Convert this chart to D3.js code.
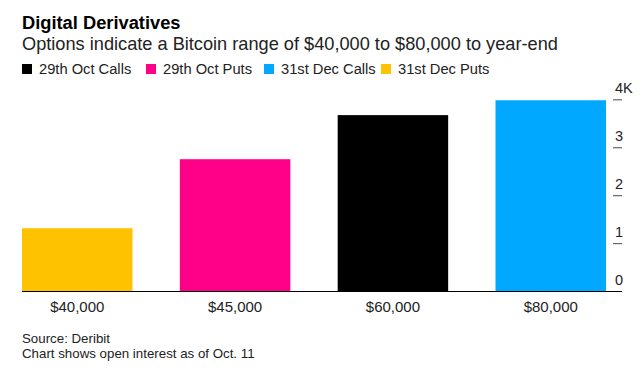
<!DOCTYPE html>
<html>
<head>
<meta charset="utf-8">
<script src="https://cdn.jsdelivr.net/npm/d3@7"></script>
<style>
  body { margin: 0; background: #fff; }
  svg { display: block; font-family: "Liberation Sans", Arial, sans-serif; }
</style>
</head>
<body>
<svg id="chart"></svg>
<script>
// strike prices, values (open interest) and the series each bar belongs to
const strikes = ["$40,000", "$45,000", "$60,000", "$80,000"];
const openInterest = [1310, 2750, 3670, 3980];
const barSeries = ["31st Dec Puts", "29th Oct Puts", "29th Oct Calls", "31st Dec Calls"];

const seriesNames = ["29th Oct Calls", "29th Oct Puts", "31st Dec Calls", "31st Dec Puts"];
const seriesColors = ["#000000", "#ff0089", "#00a9ff", "#ffc200"];

const yTicks = [0, 1000, 2000, 3000, 4000];
const yTickLabels = ["0", "1", "2", "3", "4K"];

const width = 643, height = 372;
const svg = d3.select("#chart").attr("width", width).attr("height", height);

const color = d3.scaleOrdinal().domain(seriesNames).range(seriesColors);

// 标题
svg.append("text")
    .attr("x", 22).attr("y", 29)
    .style("font-size", "18.3px").style("font-weight", "bold")
    .text("Digital Derivatives");

svg.append("text")
    .attr("x", 22).attr("y", 50)
    .style("font-size", "18.2px").attr("fill", "#222")
    .text("Options indicate a Bitcoin range of $40,000 to $80,000 to year-end");

// 图例
const legend = svg.append("g").attr("transform", "translate(22,64)");
const legendX = [0, 124, 242, 359];
const item = legend.selectAll("g")
    .data(seriesNames)
    .join("g")
    .attr("transform", (d, i) => `translate(${legendX[i]},0)`);
item.append("rect")
    .attr("width", 10).attr("height", 10)
    .attr("fill", d => color(d));
item.append("text")
    .attr("x", 17).attr("y", 10)
    .style("font-size", "14.7px").attr("fill", "#222")
    .text(d => d);

// 比例尺
const x = d3.scaleBand()
    .domain(strikes)
    .range([22, 606])
    .paddingInner(0.3)
    .paddingOuter(0);

const y = d3.scaleLinear()
    .domain([0, 4000])
    .range([291, 99.3]);

// 柱子
svg.append("g")
    .selectAll("rect")
    .data(strikes)
    .join("rect")
    .attr("x", d => x(d))
    .attr("width", x.bandwidth())
    .attr("y", (d, i) => y(openInterest[i]))
    .attr("height", (d, i) => y(0) - y(openInterest[i]))
    .attr("fill", (d, i) => color(barSeries[i]));

// x轴
const xAxis = svg.append("g")
    .attr("transform", "translate(0,291)")
    .call(d3.axisBottom(x).tickSize(0).tickPadding(10));
xAxis.select(".domain").remove();
xAxis.selectAll("text")
    .style("font-size", "15px").attr("fill", "#222")
    .style("font-family", "'Liberation Sans', Arial, sans-serif");

svg.append("line")
    .attr("x1", 22).attr("x2", 622)
    .attr("y1", 291.5).attr("y2", 291.5)
    .attr("stroke", "#000").attr("stroke-width", 1);

// y轴 (右侧)
const yAxis = svg.append("g")
    .attr("transform", "translate(613,0)")
    .call(d3.axisRight(y).tickValues(yTicks).tickFormat((d, i) => yTickLabels[i]).tickSize(9));
yAxis.select(".domain").remove();
yAxis.selectAll(".tick line")
    .attr("stroke", "#666").attr("stroke-width", 1.2)
    .filter(d => d === 0).remove();
yAxis.selectAll(".tick text")
    .attr("x", 2).attr("dy", "-7px")
    .attr("fill", "#222")
    .style("font-size", "14.5px")
    .style("font-family", "'Liberation Sans', Arial, sans-serif");

// 注释
svg.append("text")
    .attr("x", 22).attr("y", 343)
    .style("font-size", "13.3px").attr("fill", "#222")
    .text("Source: Deribit");
svg.append("text")
    .attr("x", 22).attr("y", 358)
    .style("font-size", "13.3px").attr("fill", "#222")
    .text("Chart shows open interest as of Oct. 11");
</script>
</body>
</html>
